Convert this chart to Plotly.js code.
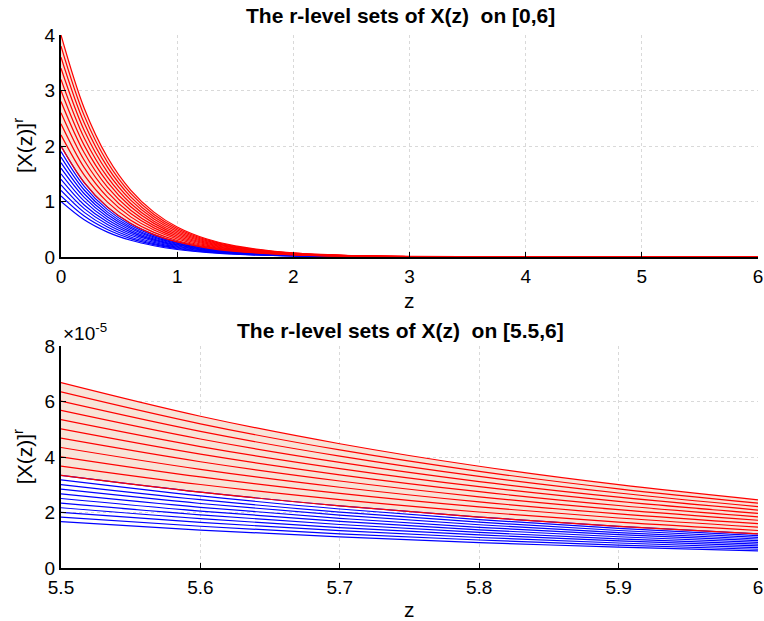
<!DOCTYPE html>
<html>
<head>
<meta charset="utf-8">
<script src="https://cdn.plot.ly/plotly-3.0.1.min.js"></script>
<style>
  html, body { margin: 0; padding: 0; background: #ffffff; }
  #chart { width: 764px; height: 621px; }
</style>
</head>
<body>
<div id="chart"></div>
<script>
// r-level sets of X(z): for each r = 0, 0.1, ..., 1 the upper bound (red)
// and the lower bound (blue) of the level interval, sampled along z.

// ---- full range [0,6] ----
const zFull = [0, 0.2, 0.4, 0.6, 0.8, 1, 1.25, 1.5, 2, 2.5, 3, 4, 6];

// upper bounds, r = 0 (top curve) ... r = 1
const upperFull = [
  [4.0, 2.681, 1.797, 1.205, 0.808, 0.541, 0.328, 0.199, 0.073, 0.027, 0.010, 0.001, 0],
  [3.8, 2.547, 1.707, 1.145, 0.767, 0.514, 0.312, 0.189, 0.070, 0.026, 0.009, 0.001, 0],
  [3.6, 2.413, 1.618, 1.084, 0.727, 0.487, 0.296, 0.179, 0.066, 0.024, 0.009, 0.001, 0],
  [3.4, 2.279, 1.528, 1.024, 0.686, 0.460, 0.279, 0.169, 0.062, 0.023, 0.008, 0.001, 0],
  [3.2, 2.145, 1.438, 0.964, 0.646, 0.433, 0.263, 0.159, 0.059, 0.022, 0.008, 0.001, 0],
  [3.0, 2.011, 1.348, 0.904, 0.606, 0.406, 0.246, 0.149, 0.055, 0.020, 0.007, 0.001, 0],
  [2.8, 1.877, 1.258, 0.843, 0.565, 0.379, 0.230, 0.139, 0.051, 0.019, 0.007, 0.001, 0],
  [2.6, 1.743, 1.168, 0.783, 0.525, 0.352, 0.213, 0.129, 0.048, 0.018, 0.006, 0.001, 0],
  [2.4, 1.609, 1.078, 0.723, 0.485, 0.325, 0.197, 0.119, 0.044, 0.016, 0.006, 0.001, 0],
  [2.2, 1.475, 0.989, 0.663, 0.444, 0.298, 0.181, 0.110, 0.040, 0.015, 0.005, 0.001, 0],
  [2.0, 1.341, 0.899, 0.602, 0.404, 0.271, 0.164, 0.100, 0.037, 0.013, 0.005, 0.001, 0]
];

// lower bounds, r = 0 (bottom curve) ... r = 1
const lowerFull = [
  [1.0, 0.670, 0.449, 0.301, 0.202, 0.135, 0.082, 0.050, 0.018, 0.007, 0.002, 0.000, 0],
  [1.1, 0.737, 0.494, 0.331, 0.222, 0.149, 0.090, 0.055, 0.020, 0.007, 0.003, 0.000, 0],
  [1.2, 0.804, 0.539, 0.361, 0.242, 0.162, 0.099, 0.060, 0.022, 0.008, 0.003, 0.000, 0],
  [1.3, 0.871, 0.584, 0.392, 0.262, 0.176, 0.107, 0.065, 0.024, 0.009, 0.003, 0.000, 0],
  [1.4, 0.938, 0.629, 0.422, 0.283, 0.189, 0.115, 0.070, 0.026, 0.009, 0.003, 0.000, 0],
  [1.5, 1.006, 0.674, 0.452, 0.303, 0.203, 0.123, 0.075, 0.027, 0.010, 0.004, 0.001, 0],
  [1.6, 1.073, 0.719, 0.482, 0.323, 0.217, 0.131, 0.080, 0.029, 0.011, 0.004, 0.001, 0],
  [1.7, 1.140, 0.764, 0.512, 0.343, 0.230, 0.140, 0.085, 0.031, 0.011, 0.004, 0.001, 0],
  [1.8, 1.207, 0.809, 0.542, 0.363, 0.244, 0.148, 0.090, 0.033, 0.012, 0.004, 0.001, 0],
  [1.9, 1.274, 0.854, 0.572, 0.384, 0.257, 0.156, 0.095, 0.035, 0.013, 0.005, 0.001, 0],
  [2.0, 1.341, 0.899, 0.602, 0.404, 0.271, 0.164, 0.100, 0.037, 0.013, 0.005, 0.001, 0]
];

// ---- tail [5.5,6], values in units of 1e-5 ----
const zTail = [5.5, 5.6, 5.7, 5.8, 5.9, 6.0];

const upperTail = [
  [6.681, 5.470, 4.478, 3.666, 3.002, 2.458],
  [6.347, 5.196, 4.254, 3.483, 2.852, 2.335],
  [6.013, 4.923, 4.031, 3.300, 2.702, 2.212],
  [5.679, 4.649, 3.807, 3.116, 2.552, 2.089],
  [5.345, 4.376, 3.583, 2.933, 2.402, 1.966],
  [5.011, 4.102, 3.359, 2.750, 2.252, 1.843],
  [4.677, 3.829, 3.135, 2.566, 2.101, 1.720],
  [4.343, 3.555, 2.911, 2.383, 1.951, 1.597],
  [4.008, 3.282, 2.687, 2.200, 1.801, 1.475],
  [3.674, 3.008, 2.463, 2.017, 1.651, 1.352],
  [3.340, 2.735, 2.239, 1.833, 1.501, 1.229]
];

const lowerTail = [
  [1.670, 1.367, 1.120, 0.917, 0.751, 0.614],
  [1.837, 1.504, 1.232, 1.008, 0.826, 0.676],
  [2.004, 1.641, 1.344, 1.100, 0.901, 0.737],
  [2.171, 1.778, 1.455, 1.192, 0.976, 0.799],
  [2.338, 1.914, 1.567, 1.283, 1.051, 0.860],
  [2.505, 2.051, 1.679, 1.375, 1.126, 0.922],
  [2.672, 2.188, 1.791, 1.467, 1.201, 0.983],
  [2.839, 2.325, 1.903, 1.558, 1.276, 1.044],
  [3.006, 2.461, 2.015, 1.650, 1.351, 1.106],
  [3.173, 2.598, 2.127, 1.742, 1.426, 1.167],
  [3.340, 2.735, 2.239, 1.833, 1.501, 1.229]
];

// ---- ticks ----
const xTicksFull = [0, 1, 2, 3, 4, 5, 6];
const yTicksFull = [0, 1, 2, 3, 4];
const xTicksTail = [5.5, 5.6, 5.7, 5.8, 5.9, 6];
const xLabelsTail = ['5.5', '5.6', '5.7', '5.8', '5.9', '6'];
const yTicksTail = [0, 2, 4, 6, 8];

const RED = '#ff0000';
const BLUE = '#0000ff';
const BAND = '#f8e4d8';
const FONT = 'Liberation Sans, Arial, Helvetica, sans-serif';

function curve(x, y, color, xa, ya) {
  return {
    x: x, y: y, xaxis: xa, yaxis: ya, type: 'scatter', mode: 'lines',
    line: { color: color, width: 1.2, shape: 'spline' },
    hoverinfo: 'skip', showlegend: false
  };
}

function band(x, lo, hi, xa, ya) {
  return [
    { x: x, y: lo, xaxis: xa, yaxis: ya, type: 'scatter', mode: 'lines',
      line: { width: 0, shape: 'spline' }, hoverinfo: 'skip', showlegend: false },
    { x: x, y: hi, xaxis: xa, yaxis: ya, type: 'scatter', mode: 'lines',
      fill: 'tonexty', fillcolor: BAND,
      line: { width: 0, shape: 'spline' }, hoverinfo: 'skip', showlegend: false }
  ];
}

function panel(x, upper, lower, xa, ya) {
  const out = band(x, upper[upper.length - 1], upper[0], xa, ya);
  lower.forEach(function (row) { out.push(curve(x, row, BLUE, xa, ya)); });
  upper.forEach(function (row) { out.push(curve(x, row, RED, xa, ya)); });
  return out;
}

const traces = panel(zFull, upperFull, lowerFull, 'x', 'y')
  .concat(panel(zTail, upperTail, lowerTail, 'x2', 'y2'));

function axis(extra) {
  return Object.assign({
    showline: true, linecolor: '#000000', linewidth: 2,
    ticks: 'inside', ticklen: 5, tickwidth: 1, tickcolor: '#000000',
    showgrid: true, gridcolor: '#d9d9d9', griddash: '3px,3px', gridwidth: 1,
    zeroline: false, mirror: false, fixedrange: true,
    tickfont: { family: FONT, size: 19, color: '#000000' }
  }, extra);
}

const TITLE_FONT = { family: FONT, size: 21, color: '#000000' };
const LABEL_FONT = { family: FONT, size: 21, color: '#000000' };

// plot area: x 61..758 px, y 35..568 px
const layout = {
  width: 764, height: 621,
  margin: { l: 61, r: 6, t: 35, b: 53 },
  paper_bgcolor: '#ffffff', plot_bgcolor: '#ffffff',
  font: { family: FONT, color: '#000000' },
  showlegend: false,
  xaxis: axis({ domain: [0, 1], range: [0, 6], anchor: 'y', tickvals: xTicksFull,
                ticklabelstandoff: 1 }),
  yaxis: axis({ domain: [0.5835, 1], range: [0, 4], anchor: 'x', tickvals: yTicksFull }),
  xaxis2: axis({ domain: [0, 1], range: [5.5, 6], anchor: 'y2',
                 tickvals: xTicksTail, ticktext: xLabelsTail, ticklabelstandoff: 1 }),
  yaxis2: axis({ domain: [0, 0.4165], range: [0, 8], anchor: 'x2', tickvals: yTicksTail }),
  annotations: [
    { text: '<b>The r-level sets of X(z)\u00a0 on [0,6]</b>', xref: 'paper', yref: 'paper',
      x: 0.487, y: 1.0375, xanchor: 'center', yanchor: 'middle', showarrow: false,
      font: TITLE_FONT },
    { text: '<b>The r-level sets of X(z)\u00a0 on [5.5,6]</b>', xref: 'paper', yref: 'paper',
      x: 0.487, y: 0.4465, xanchor: 'center', yanchor: 'middle', showarrow: false,
      font: TITLE_FONT },
    { text: '[X(z)]<sup>r</sup>', xref: 'paper', yref: 'paper', textangle: -90,
      x: -0.0545, y: 0.7917, xanchor: 'center', yanchor: 'middle', showarrow: false,
      font: LABEL_FONT },
    { text: '[X(z)]<sup>r</sup>', xref: 'paper', yref: 'paper', textangle: -90,
      x: -0.0545, y: 0.208, xanchor: 'center', yanchor: 'middle', showarrow: false,
      font: LABEL_FONT },
    { text: 'z', xref: 'paper', yref: 'paper',
      x: 0.5, y: 0.502, xanchor: 'center', yanchor: 'middle', showarrow: false,
      font: LABEL_FONT },
    { text: 'z', xref: 'paper', yref: 'paper',
      x: 0.5, y: -0.077, xanchor: 'center', yanchor: 'middle', showarrow: false,
      font: LABEL_FONT },
    { text: '\u00d710<sup>-5</sup>', xref: 'paper', yref: 'paper',
      x: 0.0, y: 0.443, xanchor: 'left', yanchor: 'middle', showarrow: false,
      font: { family: FONT, size: 19, color: '#000000' } }
  ]
};

Plotly.newPlot('chart', traces, layout, { staticPlot: true, displayModeBar: false });
</script>
</body>
</html>
